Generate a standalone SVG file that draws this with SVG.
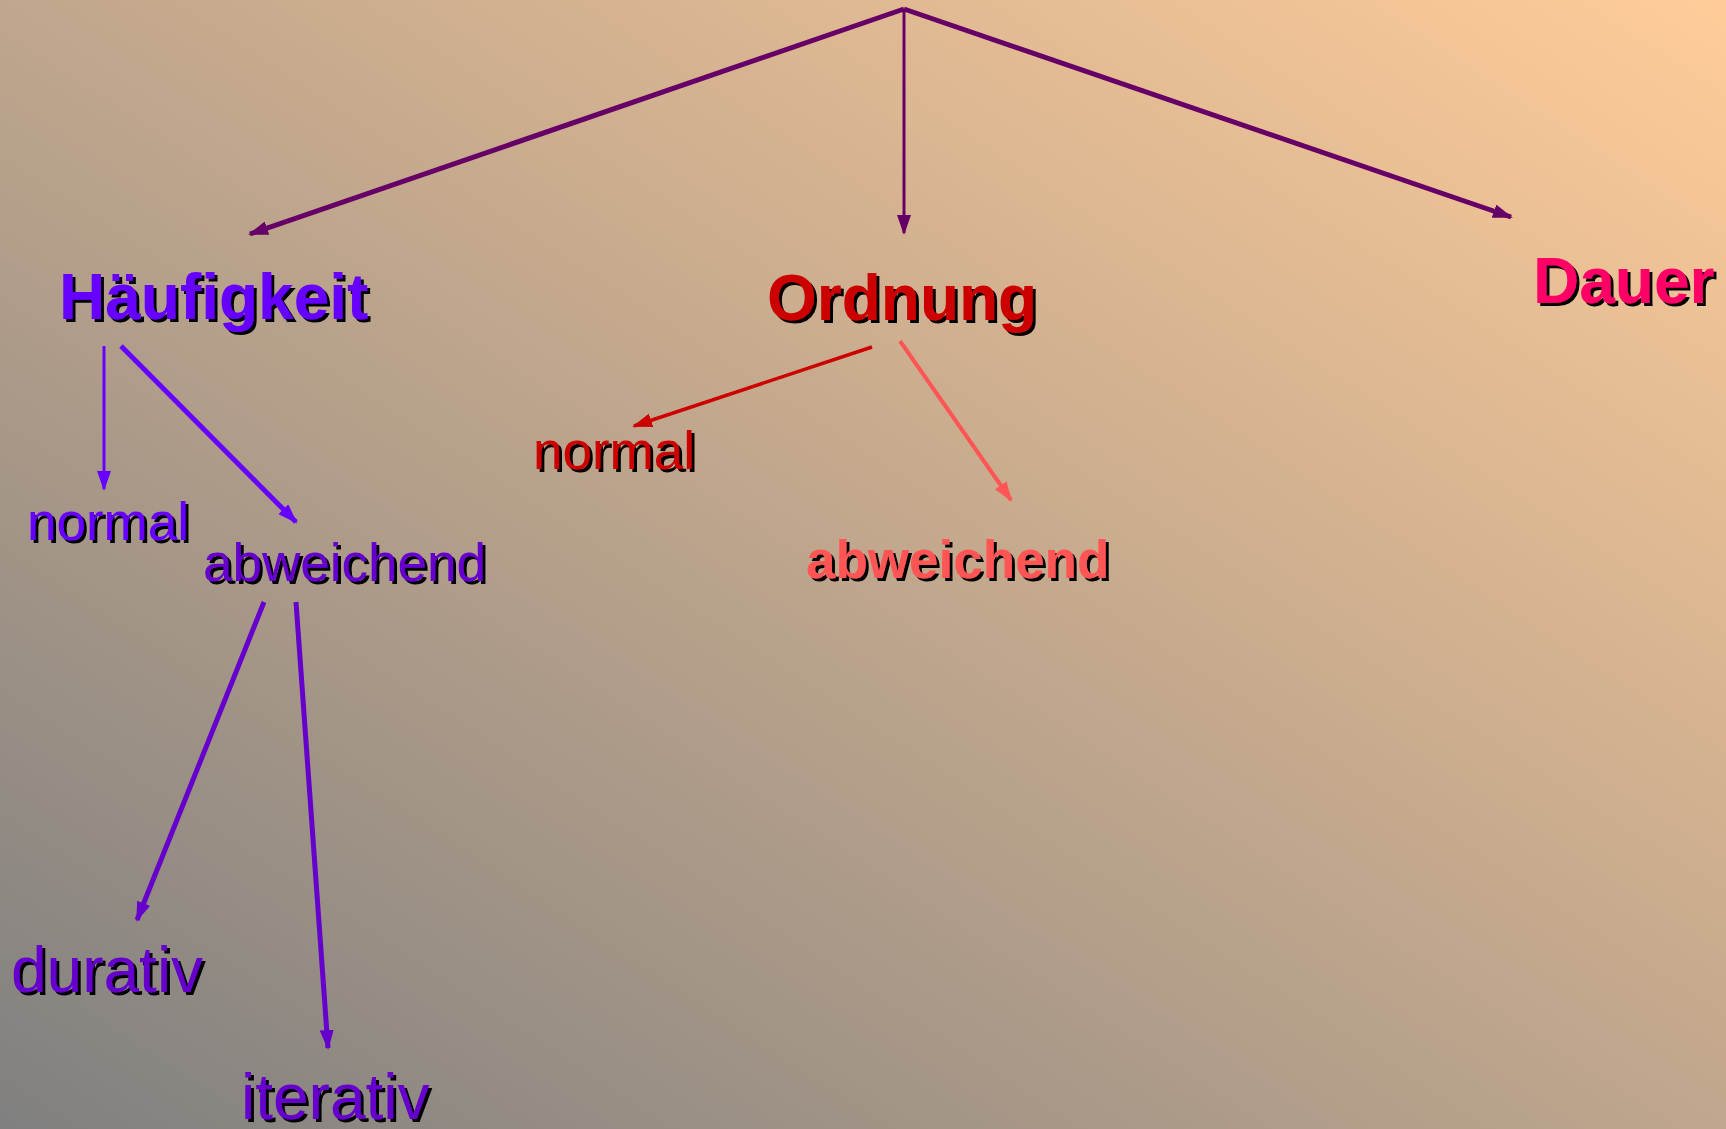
<svg xmlns="http://www.w3.org/2000/svg" width="1726" height="1129" viewBox="0 0 1726 1129">
<defs>
<linearGradient id="bg" x1="0" y1="1" x2="1" y2="0">
<stop offset="0" stop-color="#808080"/>
<stop offset="1" stop-color="#FFCC99"/>
</linearGradient>
<filter id="sh" x="-5%" y="-20%" width="115%" height="150%">
<feOffset in="SourceAlpha" dx="3" dy="3" result="o"/>
<feMerge><feMergeNode in="o"/><feMergeNode in="SourceGraphic"/></feMerge>
</filter>
<marker id="aTop" markerUnits="userSpaceOnUse" viewBox="0 0 20 14" refX="18" refY="7" markerWidth="20" markerHeight="14" orient="auto"><path d="M0,0 L20,7 L0,14 z" fill="#660066"/></marker>
<marker id="aPur" markerUnits="userSpaceOnUse" viewBox="0 0 20 14" refX="18" refY="7" markerWidth="20" markerHeight="14" orient="auto"><path d="M0,0 L20,7 L0,14 z" fill="#6600FF"/></marker>
<marker id="aPur2" markerUnits="userSpaceOnUse" viewBox="0 0 20 14" refX="18" refY="7" markerWidth="20" markerHeight="14" orient="auto"><path d="M0,0 L20,7 L0,14 z" fill="#6600CC"/></marker>
<marker id="aRed" markerUnits="userSpaceOnUse" viewBox="0 0 20 14" refX="18" refY="7" markerWidth="20" markerHeight="14" orient="auto"><path d="M0,0 L20,7 L0,14 z" fill="#CC0000"/></marker>
<marker id="aSal" markerUnits="userSpaceOnUse" viewBox="0 0 20 14" refX="18" refY="7" markerWidth="20" markerHeight="14" orient="auto"><path d="M0,0 L20,7 L0,14 z" fill="#FF5555"/></marker>
</defs>
<style>
text{font-family:"Liberation Sans",Arial,sans-serif;filter:url(#sh)}
.b{font-weight:bold;font-size:64px}
.r{font-size:53px}
.l{font-size:64px}
line{fill:none}
</style>
<rect x="0" y="0" width="1726" height="1129" fill="url(#bg)"/>
<g id="connectors">
<line x1="904" y1="9" x2="250" y2="234" stroke="#660066" stroke-width="5" marker-end="url(#aTop)"/>
<line x1="904" y1="9" x2="904" y2="233" stroke="#660066" stroke-width="3" marker-end="url(#aTop)"/>
<line x1="904" y1="9" x2="1511" y2="217" stroke="#660066" stroke-width="5" marker-end="url(#aTop)"/>
<line x1="104" y1="346" x2="104" y2="489" stroke="#6600FF" stroke-width="3" marker-end="url(#aPur)"/>
<line x1="121" y1="346" x2="296" y2="522" stroke="#6600FF" stroke-width="5" marker-end="url(#aPur)"/>
<line x1="872" y1="347" x2="634" y2="426" stroke="#CC0000" stroke-width="3.5" marker-end="url(#aRed)"/>
<line x1="900" y1="341" x2="1011" y2="500" stroke="#FF5555" stroke-width="4" marker-end="url(#aSal)"/>
<line x1="264" y1="602" x2="137" y2="920" stroke="#6600CC" stroke-width="5" marker-end="url(#aPur2)"/>
<line x1="296" y1="602" x2="328" y2="1048" stroke="#6600CC" stroke-width="5" marker-end="url(#aPur2)"/>
</g>
<g id="haeufigkeit"><text class="b" x="59" y="319" fill="#6600FF">Häufigkeit</text></g>
<g id="ordnung"><text class="b" x="767" y="320" fill="#CC0000">Ordnung</text></g>
<g id="dauer"><text class="b" x="1533" y="303" fill="#FF0066">Dauer</text></g>
<g id="h-normal"><text class="r" x="27" y="540" fill="#6600FF">normal</text></g>
<g id="h-abweichend"><text class="r" x="203" y="581" fill="#6600CC">abweichend</text></g>
<g id="o-normal"><text class="r" x="533" y="469" fill="#CC0000">normal</text></g>
<g id="o-abweichend"><text class="r" x="806" y="578" fill="#FF5555" font-weight="bold">abweichend</text></g>
<g id="durativ"><text class="l" x="11" y="992" fill="#6600CC">durativ</text></g>
<g id="iterativ"><text class="l" x="241" y="1119" fill="#6600CC">iterativ</text></g>
</svg>
